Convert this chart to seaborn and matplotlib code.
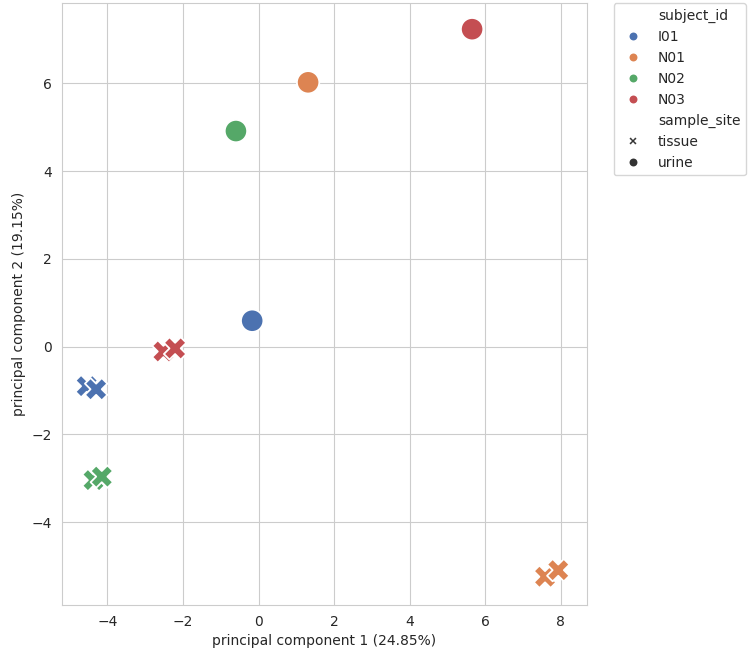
import pandas as pd
import matplotlib
matplotlib.use("Agg")
import matplotlib.pyplot as plt
import seaborn as sns

# PCA coordinates
subject_id = ["I01", "I01", "I01", "N01", "N01", "N01",
              "N02", "N02", "N02", "N03", "N03", "N03"]
sample_site = ["tissue", "tissue", "urine"] * 4
pc1 = [-4.55, -4.30, -0.17, 7.58, 7.93, 1.31,
       -4.37, -4.15, -0.60, -2.52, -2.21, 5.65]
pc2 = [-0.90, -0.97, 0.59, -5.24, -5.09, 6.02,
       -3.04, -2.96, 4.91, -0.11, -0.04, 7.23]

subjects = ["I01", "N01", "N02", "N03"]
sites = ["tissue", "urine"]

df = pd.DataFrame({
    'subject_id': subject_id,
    'sample_site': sample_site,
    'pc1': pc1,
    'pc2': pc2,
})

sns.set_style("whitegrid")

fig = plt.figure(figsize=(7.53, 6.56), dpi=100)
ax = fig.add_axes([0.082, 0.078, 0.698, 0.917])

sns.scatterplot(x='pc1', y='pc2', hue='subject_id', style='sample_site',
                hue_order=subjects, style_order=sites,
                markers={'tissue': 'X', 'urine': 'o'},
                s=260, palette='deep', data=df, ax=ax)

ax.set_xlim(-5.21, 8.70)
ax.set_ylim(-5.88, 7.82)
ax.set_xlabel('principal component 1 (24.85%)')
ax.set_ylabel('principal component 2 (19.15%)')

# smaller legend markers, circles for the hue entries
handles, labels = ax.get_legend_handles_labels()
for h, lab in zip(handles, labels):
    if hasattr(h, 'set_markersize'):
        h.set_markersize(7)
        if lab in subjects:
            h.set_marker('o')
ax.legend(handles, labels, bbox_to_anchor=(1.05, 1), loc='upper left',
          borderaxespad=0)

plt.savefig('out.png', dpi=100)
plt.close()
